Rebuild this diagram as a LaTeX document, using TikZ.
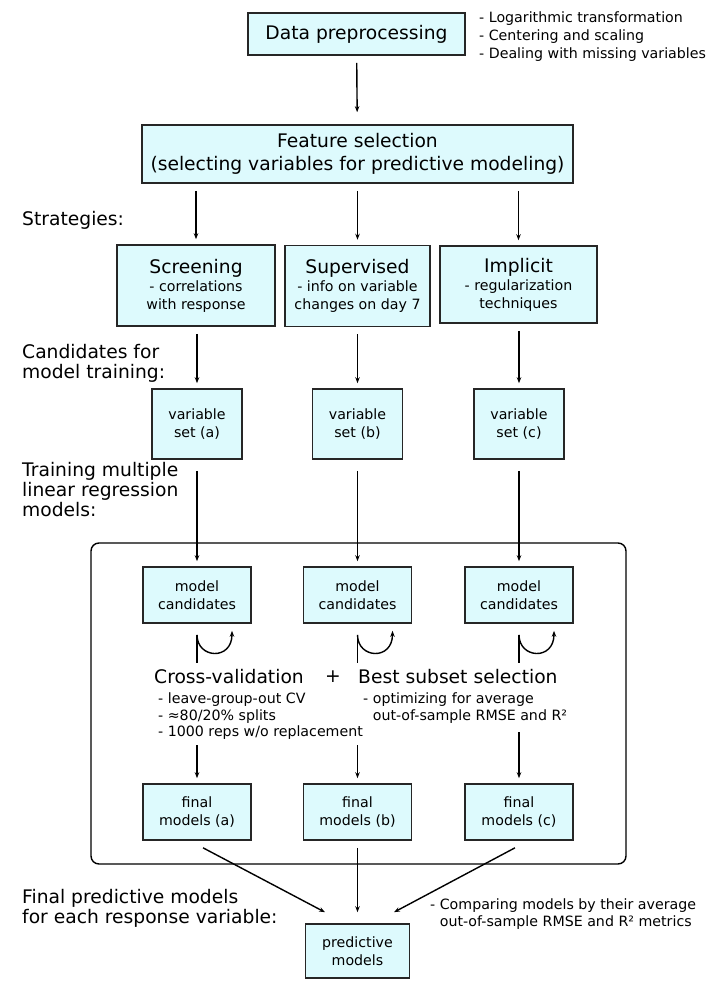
\documentclass[tikz,border=0pt]{standalone}
\usepackage{fontspec}
\setmainfont{DejaVu Sans}
\usetikzlibrary{arrows.meta}

\definecolor{boxfill}{RGB}{221,250,253}
\newcommand{\bigtxt}{\fontsize{18.7}{23}\selectfont}
\newcommand{\smalltxt}{\fontsize{14.2}{18}\selectfont}

\begin{document}
\begin{tikzpicture}[x=1pt, y=-1pt,
        box/.style={draw=black!85, line width=1.6pt, fill=boxfill, align=center, inner sep=0pt},
        big/.style={font=\bigtxt},
        small/.style={font=\smalltxt},
        label/.style={font=\fontsize{18.7}{20}\selectfont, align=left, anchor=west, inner sep=0pt},
        note/.style={font=\fontsize{14.2}{16.5}\selectfont, align=left, anchor=west, inner sep=0pt},
        arr/.style={-{Stealth[length=6pt, width=4.5pt]}, line width=1.4pt, shorten <=7pt, shorten >=5pt},
        line/.style={line width=1.4pt}]
    \useasboundingbox (0,0) rectangle (717,988);

    % top part
    \node [box, big, minimum width=217pt, minimum height=42pt] (prep) at (356.5,34) {Data preprocessing};
    \node [note, font=\smalltxt] (prepnote) at (479,37) {- Logarithmic transformation\\- Centering and scaling\\- Dealing with missing variables};
    \node [box, big, minimum width=431pt, minimum height=58pt] (feat) at (357.5,154) {Feature selection\\(selecting variables for predictive modeling)};
    \draw [arr, shorten >=12pt] (prep) -- (feat);

    % strategies
    \node [label] (strat) at (22,220) {Strategies:};
    \node [box, small, minimum width=158pt, minimum height=81pt] (scr) at (196,285.5) {{\bigtxt Screening}\\- correlations\\with response};
    \node [box, small, minimum width=145pt, minimum height=81pt] (sup) at (357.5,286) {{\bigtxt Supervised}\\- info on variable\\changes on day 7};
    \node [box, small, minimum width=157pt, minimum height=77pt] (imp) at (518.5,284.5) {{\bigtxt Implicit}\\- regularization\\techniques};
    \draw [arr] (feat.south -| scr) -- (scr);
    \draw [arr] (feat.south -| sup) -- (sup);
    \draw [arr] (feat.south -| imp) -- (imp);

    % variable sets
    \node [label] (cand) at (22,363) {Candidates for\\model training:};
    \node [box, small, minimum width=90pt, minimum height=70pt] (vsa) at (197,424) {variable\\set (a)};
    \node [box, small, minimum width=90pt, minimum height=70pt] (vsb) at (357.5,424) {variable\\set (b)};
    \node [box, small, minimum width=90pt, minimum height=70pt] (vsc) at (519,424) {variable\\set (c)};
    \draw [arr] (scr.south -| vsa) -- (vsa);
    \draw [arr] (sup.south -| vsb) -- (vsb);
    \draw [arr] (imp.south -| vsc) -- (vsc);

    % training
    \node [label] (train) at (22,490) {Training multiple\\linear regression\\models:};
    \draw [line, rounded corners=8pt] (91,543) rectangle (626,864);
    \node [box, small, minimum width=108pt, minimum height=56pt] (mca) at (197,595) {model\\candidates};
    \node [box, small, minimum width=108pt, minimum height=56pt] (mcb) at (357.5,595) {model\\candidates};
    \node [box, small, minimum width=108pt, minimum height=56pt] (mcc) at (519,595) {model\\candidates};
    \draw [arr, shorten <=11pt] (vsa) -- (mca);
    \draw [arr, shorten <=11pt] (vsb) -- (mcb);
    \draw [arr, shorten <=11pt] (vsc) -- (mcc);

    \foreach \m in {mca,mcb,mcc} {
        \draw [line] ([yshift=-11pt]\m.south) coordinate (\m loop) -- ++(0,28);
        \draw [arr, shorten <=0pt, shorten >=0pt] (\m loop) .. controls +(0,24) and +(0,30) .. +(35,-4);
    }

    \node [big, anchor=west, inner sep=0pt] (cv) at (154,677) {Cross-validation};
    \node [big, inner sep=0pt] (plus) at (333,677) {+};
    \node [big, anchor=west, inner sep=0pt] (bss) at (358,677) {Best subset selection};
    \node [note] (cvnote) at (158,716.5) {- leave-group-out CV\\- ≈80/20\% splits\\- 1000 reps w/o replacement};
    \node [note] (bssnote) at (363,708) {- optimizing for average\\\phantom{- }out-of-sample RMSE and R²};

    \node [box, small, minimum width=108pt, minimum height=56pt] (fa) at (197,812) {final\\models (a)};
    \node [box, small, minimum width=108pt, minimum height=56pt] (fb) at (357.5,812) {final\\models (b)};
    \node [box, small, minimum width=108pt, minimum height=56pt] (fc) at (519,812) {final\\models (c)};
    \coordinate (cva) at (197,745);
    \coordinate (cvb) at (357.5,745);
    \coordinate (cvc) at (519,732);
    \draw [arr, shorten <=0pt] (cva) -- (fa);
    \draw [arr, shorten <=0pt] (cvb) -- (fb);
    \draw [arr, shorten <=0pt] (cvc) -- (fc);

    % final
    \node [label] (finlabel) at (22,908) {Final predictive models\\for each response variable:};
    \node [box, small, minimum width=104pt, minimum height=54pt] (pred) at (357.5,951) {predictive\\models};
    \node [note] (prednote) at (430,914) {- Comparing models by their average\\\phantom{- }out-of-sample RMSE and R² metrics};
    \draw [arr, shorten <=0pt, shorten >=0pt] ([xshift=6pt, yshift=-7pt]fa.south) -- ([xshift=-32.5pt, yshift=11pt]pred.north);
    \draw [arr, shorten >=11pt] (fb) -- (pred);
    \draw [arr, shorten <=0pt, shorten >=0pt] ([xshift=-4pt, yshift=-7pt]fc.south) -- ([xshift=36.5pt, yshift=11pt]pred.north);
\end{tikzpicture}
\end{document}
